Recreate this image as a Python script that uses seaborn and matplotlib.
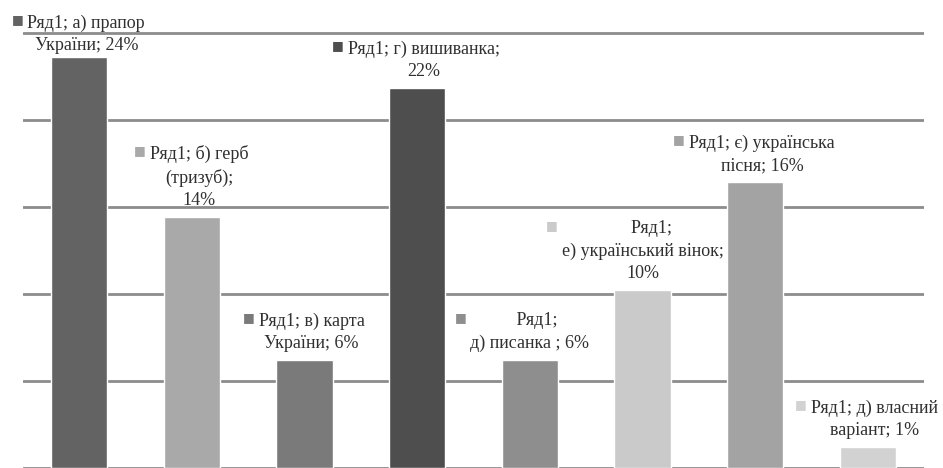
import seaborn as sns
import matplotlib.pyplot as plt
import pandas as pd

# data (bar heights estimated, labels show rounded %)
categories = ["а) прапор України", "б) герб (тризуб)", "в) карта України", "г) вишиванка",
              "д) писанка", "е) український вінок", "є) українська пісня", "д) власний варіант"]
values = [23.6, 14.4, 6.2, 21.8, 6.2, 10.2, 16.4, 1.2]
label_heads = ["Ряд1; а) прапор\nУкраїни;",
               "Ряд1; б) герб\n(тризуб);\n",
               "Ряд1; в) карта\nУкраїни;",
               "Ряд1; г) вишиванка;\n",
               "   Ряд1;\nд) писанка ;",
               "    Ряд1;\nе) український вінок;\n",
               "Ряд1; є) українська\nпісня;",
               "Ряд1; д) власний\nваріант;"]
colors = ["#636363", "#a9a9a9", "#7a7a7a", "#4e4e4e", "#8e8e8e", "#cacaca", "#a3a3a3", "#d2d2d2"]

df = pd.DataFrame({"cat": categories, "val": values})

sns.set_style("white")
plt.rcParams["font.family"] = ["Liberation Serif", "DejaVu Sans"]

fig = plt.figure(figsize=(9.43, 4.68), dpi=100)
ax = fig.add_axes([23 / 943, 0, 901 / 943, 1])

sns.barplot(data=df, x="cat", y="val", hue="cat", palette=colors, legend=False,
            width=0.5, saturation=1, ax=ax)

ax.set_xlim(-0.5, 7.5)
ax.set_ylim(0.23, 26.88)
ax.set_yticks([0, 5, 10, 15, 20, 25])
ax.yaxis.grid(True, color="#8c8c8c", linewidth=2)
ax.set_axisbelow(True)
ax.tick_params(left=False, bottom=False, labelleft=False, labelbottom=False)
ax.set_xlabel("")
ax.set_ylabel("")
sns.despine(ax=ax, left=True, bottom=True)

for i, (head, v) in enumerate(zip(label_heads, values)):
    sep = " " if not head.endswith("\n") else ""
    dx = 0 if head.startswith(" ") else 5
    dy = 2 if i == 0 else 6
    txt = ax.annotate(f"{head}{sep}{round(v)}%", xy=(i, v), xytext=(dx, dy),
                      textcoords="offset points", ha="center", va="bottom",
                      fontsize=13, color="#303030", linespacing=1.4,
                      annotation_clip=False)
    ax.annotate("■", xy=(0, 1), xycoords=txt, xytext=(-3, 1),
                textcoords="offset points", ha="right", va="top",
                fontsize=9, color=colors[i], family=["DejaVu Sans"],
                annotation_clip=False)

fig.savefig("out.png", dpi=100)
plt.close(fig)
